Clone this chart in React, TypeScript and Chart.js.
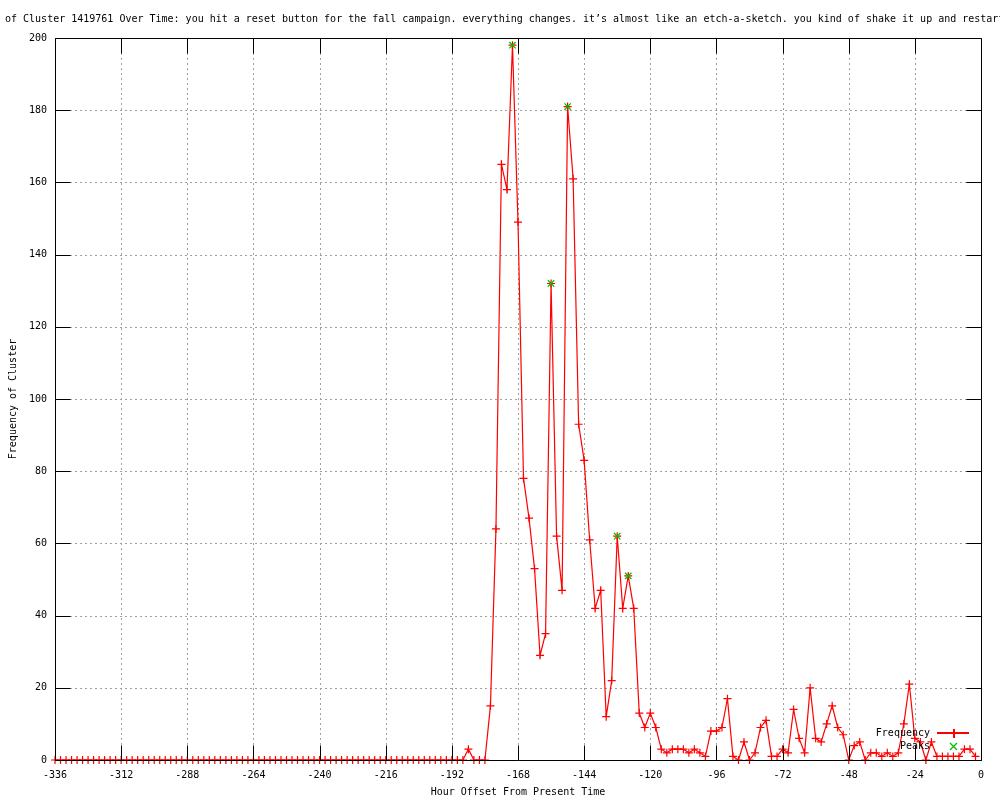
import React, { useEffect, useRef } from "react";
import { Chart, registerables } from "chart.js";

Chart.register(...registerables);

const TITLE =
  "of Cluster 1419761 Over Time: you hit a reset button for the fall campaign. everything changes. it’s almost like an etch-a-sketch. you kind of shake it up and restart";
const X_TITLE = "Hour Offset From Present Time";
const Y_TITLE = "Frequency of Cluster";
const SERIES_NAMES = ["Frequency", "Peaks"];

const HOURS = [
  -336, -334, -332, -330, -328, -326, -324, -322, -320, -318, -316, -314,
  -312, -310, -308, -306, -304, -302, -300, -298, -296, -294, -292, -290,
  -288, -286, -284, -282, -280, -278, -276, -274, -272, -270, -268, -266,
  -264, -262, -260, -258, -256, -254, -252, -250, -248, -246, -244, -242,
  -240, -238, -236, -234, -232, -230, -228, -226, -224, -222, -220, -218,
  -216, -214, -212, -210, -208, -206, -204, -202, -200, -198, -196, -194,
  -192, -190, -188, -186, -184, -182, -180, -178, -176, -174, -172, -170,
  -168, -166, -164, -162, -160, -158, -156, -154, -152, -150, -148, -146,
  -144, -142, -140, -138, -136, -134, -132, -130, -128, -126, -124, -122,
  -120, -118, -116, -114, -112, -110, -108, -106, -104, -102, -100, -98,
  -96, -94, -92, -90, -88, -86, -84, -82, -80, -78, -76, -74,
  -72, -70, -68, -66, -64, -62, -60, -58, -56, -54, -52, -50,
  -48, -46, -44, -42, -40, -38, -36, -34, -32, -30, -28, -26,
  -24, -22, -20, -18, -16, -14, -12, -10, -8, -6, -4, -2,
];

const FREQUENCY = [
  0, 0, 0, 0, 0, 0, 0, 0, 0, 0, 0, 0,
  0, 0, 0, 0, 0, 0, 0, 0, 0, 0, 0, 0,
  0, 0, 0, 0, 0, 0, 0, 0, 0, 0, 0, 0,
  0, 0, 0, 0, 0, 0, 0, 0, 0, 0, 0, 0,
  0, 0, 0, 0, 0, 0, 0, 0, 0, 0, 0, 0,
  0, 0, 0, 0, 0, 0, 0, 0, 0, 0, 0, 0,
  0, 0, 0, 3, 0, 0, 0, 15, 64, 165, 158, 198,
  149, 78, 67, 53, 29, 35, 132, 62, 47, 181, 161, 93,
  83, 61, 42, 47, 12, 22, 62, 42, 51, 42, 13, 9,
  13, 9, 3, 2, 3, 3, 3, 2, 3, 2, 1, 8,
  8, 9, 17, 1, 0, 5, 0, 2, 9, 11, 1, 1,
  3, 2, 14, 6, 2, 20, 6, 5, 10, 15, 9, 7,
  0, 4, 5, 0, 2, 2, 1, 2, 1, 2, 10, 21,
  6, 5, 0, 5, 1, 1, 1, 1, 1, 3, 3, 1,
];

const PEAK_HOURS = [-170, -156, -150, -132, -128];
const PEAK_VALUES = [198, 132, 181, 62, 51];

const X_TICKS = [-336, -312, -288, -264, -240, -216, -192, -168, -144, -120, -96, -72, -48, -24, 0];
const Y_TICKS = [0, 20, 40, 60, 80, 100, 120, 140, 160, 180, 200];

const FONT_FAMILY = '"DejaVu Sans Mono", monospace';
const FONT = `10px ${FONT_FAMILY}`;
const RED = "rgb(255, 0, 0)";
const GREEN = "rgb(0, 192, 0)";
const GRID = "#a0a0a0";
const TICK_LEN = 15;

const framePlugin = {
  id: "gnuplotFrame",
  beforeDatasetsDraw(chart: any) {
    const { ctx, chartArea: a, scales } = chart;
    const x = scales.x;
    const y = scales.y;
    ctx.save();
    ctx.strokeStyle = GRID;
    ctx.lineWidth = 1;
    ctx.setLineDash([2, 3]);
    X_TICKS.slice(1, -1).forEach((v) => {
      const px = Math.round(x.getPixelForValue(v)) + 0.5;
      ctx.beginPath();
      ctx.moveTo(px, a.top);
      ctx.lineTo(px, a.bottom);
      ctx.stroke();
    });
    Y_TICKS.slice(1, -1).forEach((v) => {
      const py = Math.round(y.getPixelForValue(v)) + 0.5;
      ctx.beginPath();
      ctx.moveTo(a.left, py);
      ctx.lineTo(a.right, py);
      ctx.stroke();
    });
    ctx.restore();
  },
  afterDatasetsDraw(chart: any) {
    const { ctx, chartArea: a, scales } = chart;
    const x = scales.x;
    const y = scales.y;
    const L = Math.round(a.left) + 0.5;
    const R = Math.round(a.right) + 0.5;
    const T = Math.round(a.top) + 0.5;
    const B = Math.round(a.bottom) + 0.5;
    ctx.save();
    ctx.strokeStyle = "#000000";
    ctx.lineWidth = 1;
    ctx.setLineDash([]);
    ctx.beginPath();
    X_TICKS.forEach((v) => {
      const px = Math.round(x.getPixelForValue(v)) + 0.5;
      ctx.moveTo(px, B);
      ctx.lineTo(px, B - TICK_LEN);
      ctx.moveTo(px, T);
      ctx.lineTo(px, T + TICK_LEN);
    });
    Y_TICKS.forEach((v) => {
      const py = Math.round(y.getPixelForValue(v)) + 0.5;
      ctx.moveTo(L, py);
      ctx.lineTo(L + TICK_LEN, py);
      ctx.moveTo(R, py);
      ctx.lineTo(R - TICK_LEN, py);
    });
    ctx.stroke();
    ctx.beginPath();
    ctx.rect(L, T, R - L, B - T);
    ctx.stroke();
    ctx.restore();
  },
  afterDraw(chart: any) {
    const { ctx } = chart;
    ctx.save();
    ctx.setLineDash([]);
    ctx.lineWidth = 1;
    ctx.globalAlpha = 1;
    ctx.globalCompositeOperation = "source-over";
    ctx.font = FONT;
    ctx.fillStyle = "#000000";
    ctx.textAlign = "right";
    ctx.textBaseline = "middle";
    const lx = 930;
    const y1 = 733;
    const y2 = 746;
    ctx.fillText(SERIES_NAMES[0], lx, y1);
    ctx.fillText(SERIES_NAMES[1], lx, y2);

    ctx.fillStyle = RED;
    ctx.fillRect(937, y1 - 1, 32, 2);
    ctx.fillRect(953, y1 - 4, 2, 9);

    ctx.strokeStyle = GREEN;
    ctx.lineWidth = 1.3;
    ctx.beginPath();
    ctx.moveTo(950, y2 - 3);
    ctx.lineTo(957, y2 + 4);
    ctx.moveTo(957, y2 - 3);
    ctx.lineTo(950, y2 + 4);
    ctx.stroke();

    ctx.fillStyle = "#000000";
    ctx.textAlign = "left";
    ctx.fillText(TITLE, 5, 19);
    ctx.restore();
  },
};

export default function App() {
  const canvasRef = useRef<HTMLCanvasElement | null>(null);

  useEffect(() => {
    const canvas = canvasRef.current;
    if (!canvas) return;
    const freqData = HOURS.map((h, i) => ({ x: h, y: FREQUENCY[i] }));
    const peakData = PEAK_HOURS.map((h, i) => ({ x: h, y: PEAK_VALUES[i] }));
    const chart = new Chart(canvas, {
      type: "line",
      data: {
        datasets: [
          {
            label: SERIES_NAMES[0],
            data: freqData,
            borderColor: RED,
            backgroundColor: RED,
            borderWidth: 1.2,
            pointStyle: "cross",
            pointRadius: 4,
            pointBorderWidth: 1.2,
            pointBorderColor: RED,
            tension: 0,
            clip: false,
            order: 2,
          },
          {
            label: SERIES_NAMES[1],
            data: peakData,
            showLine: false,
            borderColor: GREEN,
            backgroundColor: GREEN,
            pointStyle: "crossRot",
            pointRadius: 4.5,
            pointBorderWidth: 1.3,
            pointBorderColor: GREEN,
            clip: false,
            order: 1,
          },
        ],
      },
      options: {
        animation: false,
        responsive: false,
        devicePixelRatio: 1,
        layout: { padding: { top: 38, right: 19, bottom: 0, left: 0 } },
        plugins: {
          legend: { display: false },
          title: { display: false },
          tooltip: { enabled: false },
        },
        events: [],
        scales: {
          x: {
            type: "linear",
            min: -336,
            max: 0,
            grid: { display: false, drawTicks: false },
            border: { display: false },
            afterFit: (s: any) => {
              s.height = 40;
            },
            afterBuildTicks: (s: any) => {
              s.ticks = X_TICKS.map((v) => ({ value: v }));
            },
            ticks: {
              autoSkip: false,
              maxRotation: 0,
              padding: 9,
              color: "#000",
              font: { family: FONT_FAMILY, size: 10 },
              callback: (v: any) => String(v),
            },
            title: {
              display: true,
              text: X_TITLE,
              color: "#000",
              font: { family: FONT_FAMILY, size: 10 },
              padding: { top: 0, bottom: 2 },
            },
          },
          y: {
            type: "linear",
            min: 0,
            max: 200,
            grid: { display: false, drawTicks: false },
            border: { display: false },
            afterFit: (s: any) => {
              s.width = 55;
            },
            afterBuildTicks: (s: any) => {
              s.ticks = Y_TICKS.map((v) => ({ value: v }));
            },
            ticks: {
              autoSkip: false,
              padding: 8,
              color: "#000",
              font: { family: FONT_FAMILY, size: 10 },
              callback: (v: any) => String(v),
            },
            title: {
              display: true,
              text: Y_TITLE,
              color: "#000",
              font: { family: FONT_FAMILY, size: 10 },
              padding: { top: 7, bottom: 0 },
            },
          },
        },
      },
      plugins: [framePlugin],
    });
    return () => chart.destroy();
  }, []);

  return (
    <div style={{ position: "absolute", left: 0, top: 0, width: 1000, height: 800, background: "#fff" }}>
      <canvas ref={canvasRef} width={1000} height={800} style={{ display: "block" }} />
    </div>
  );
}
